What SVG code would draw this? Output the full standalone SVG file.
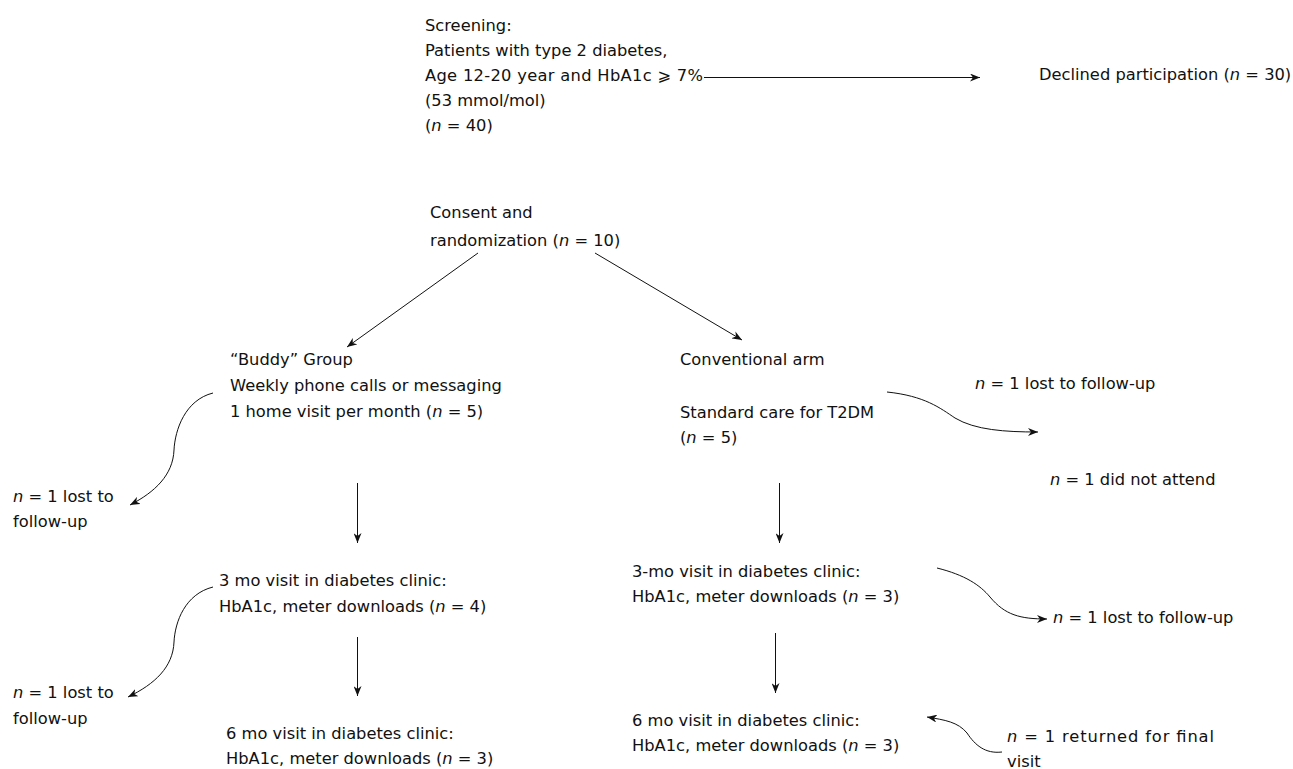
<svg xmlns="http://www.w3.org/2000/svg" width="1293" height="769" viewBox="0 0 1293 769">
<style>
text { font-family: "DejaVu Sans", Verdana, Tahoma, sans-serif; font-size: 16.3px; fill: #111; }
.i { font-style: italic; }
.c { fill: none; stroke: #111; stroke-width: 1; }
</style>
<defs>
<marker id="ah" viewBox="0 0 10 8" refX="10" refY="4" markerWidth="10" markerHeight="8" orient="auto" markerUnits="userSpaceOnUse">
<path d="M0,0 L10,4 L0,8 L3,4 z" fill="#111"/>
</marker>
</defs>
<rect width="1293" height="769" fill="#fff"/>

<g id="connectors">
<line class="c" x1="704" y1="77.5" x2="980" y2="77.5" stroke="#444" marker-end="url(#ah)"/>
<line class="c" x1="478" y1="253" x2="347" y2="347" marker-end="url(#ah)"/>
<line class="c" x1="595" y1="253" x2="742" y2="340" marker-end="url(#ah)"/>
<path class="c" d="M213,393 C185,400 175,430 174,450 C173,475 155,492 130,505" marker-end="url(#ah)"/>
<line class="c" x1="357.5" y1="483" x2="357.5" y2="543" marker-end="url(#ah)"/>
<path class="c" d="M213,587 C185,594 175,622 174,642 C173,667 155,684 128,697" marker-end="url(#ah)"/>
<line class="c" x1="357.5" y1="637" x2="357.5" y2="696" marker-end="url(#ah)"/>
<path class="c" d="M887,392 C925,396 940,408 955,418 C975,430 1005,432 1038,432" marker-end="url(#ah)"/>
<line class="c" x1="779.5" y1="483" x2="779.5" y2="543" marker-end="url(#ah)"/>
<path class="c" d="M937,568 C965,575 980,585 990,597 C1005,615 1020,619 1047,619" marker-end="url(#ah)"/>
<line class="c" x1="775.5" y1="633" x2="775.5" y2="693" marker-end="url(#ah)"/>
<path class="c" d="M1002,752 C985,754 975,745 967,733 C958,722 945,720 927,717" marker-end="url(#ah)"/>
</g>

<g id="screening">
<text x="425" y="31">Screening:</text>
<text x="425" y="56">Patients with type 2 diabetes,</text>
<text x="425" y="81" textLength="278" lengthAdjust="spacing">Age 12-20 year and HbA1c ⩾ 7%</text>
<text x="425" y="106">(53 mmol/mol)</text>
<text x="425" y="131">(<tspan class="i">n</tspan> = 40)</text>
</g>

<g id="declined">
<text x="1039" y="80">Declined participation (<tspan class="i">n</tspan> = 30)</text>
</g>

<g id="consent">
<text x="430" y="218">Consent and</text>
<text x="430" y="246">randomization (<tspan class="i">n</tspan> = 10)</text>
</g>

<g id="buddy">
<text x="230" y="365">“Buddy” Group</text>
<text x="230" y="391">Weekly phone calls or messaging</text>
<text x="230" y="417">1 home visit per month (<tspan class="i">n</tspan> = 5)</text>
</g>

<g id="conventional">
<text x="680" y="365">Conventional arm</text>
<text x="680" y="418">Standard care for T2DM</text>
<text x="680" y="443">(<tspan class="i">n</tspan> = 5)</text>
</g>

<g id="lost-buddy-1">
<text x="13" y="502"><tspan class="i">n</tspan> = 1 lost to</text>
<text x="13" y="527">follow-up</text>
</g>

<g id="lost-conv-1">
<text x="975" y="389"><tspan class="i">n</tspan> = 1 lost to follow-up</text>
</g>

<g id="not-attend">
<text x="1050" y="485"><tspan class="i">n</tspan> = 1 did not attend</text>
</g>

<g id="buddy-3mo">
<text x="219" y="586">3 mo visit in diabetes clinic:</text>
<text x="219" y="612">HbA1c, meter downloads (<tspan class="i">n</tspan> = 4)</text>
</g>

<g id="conv-3mo">
<text x="632" y="577">3-mo visit in diabetes clinic:</text>
<text x="632" y="602">HbA1c, meter downloads (<tspan class="i">n</tspan> = 3)</text>
</g>

<g id="lost-conv-2">
<text x="1053" y="623"><tspan class="i">n</tspan> = 1 lost to follow-up</text>
</g>

<g id="lost-buddy-2">
<text x="13" y="698"><tspan class="i">n</tspan> = 1 lost to</text>
<text x="13" y="724">follow-up</text>
</g>

<g id="buddy-6mo">
<text x="226" y="739">6 mo visit in diabetes clinic:</text>
<text x="226" y="764">HbA1c, meter downloads (<tspan class="i">n</tspan> = 3)</text>
</g>

<g id="conv-6mo">
<text x="632" y="726">6 mo visit in diabetes clinic:</text>
<text x="632" y="751">HbA1c, meter downloads (<tspan class="i">n</tspan> = 3)</text>
</g>

<g id="returned">
<text x="1007" y="742" textLength="207" lengthAdjust="spacing"><tspan class="i">n</tspan> = 1 returned for final</text>
<text x="1007" y="767">visit</text>
</g>
</svg>
